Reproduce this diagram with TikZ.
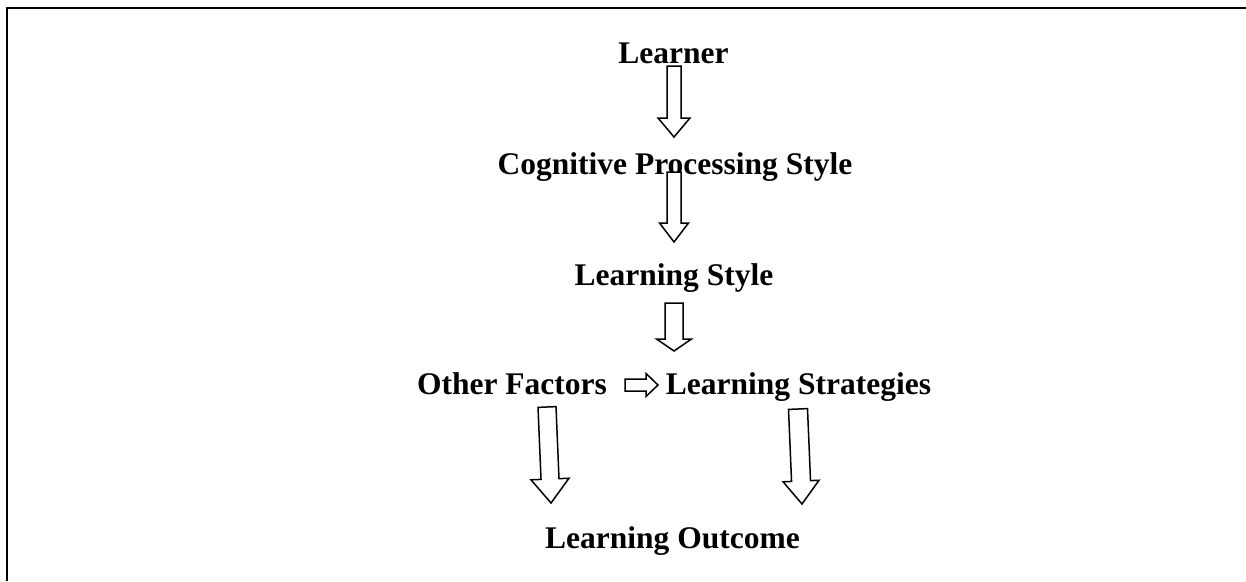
\documentclass[tikz,border=0pt]{standalone}
\usepackage{fontspec}
\setmainfont{Liberation Serif}
\usetikzlibrary{positioning,calc}

% hollow block arrow: tail, tip, half shaft, half head, head length
\newcommand{\hollowarrow}[5]{%
    \coordinate (hb) at ($(#2)!#5!(#1)$);
    \draw[blockline] ($(#1)!#3!90:(#2)$) -- ($(hb)!#3!90:(#2)$) -- ($(hb)!#4!90:(#2)$)
        -- (#2) -- ($(hb)!#4!-90:(#2)$) -- ($(hb)!#3!-90:(#2)$) -- ($(#1)!#3!-90:(#2)$) -- cycle;
}

\begin{document}
\begin{tikzpicture}[x=1pt,y=-1pt,
    stage/.style={font=\fontsize{31.5}{36}\selectfont\bfseries, inner sep=0pt, anchor=base},
    blockline/.style={draw=black, fill=white, line width=1.5pt, line join=miter}]
    \useasboundingbox (0,0) rectangle (1246,581);
    % Frame
    \draw[line width=2pt] (7,581) -- (7,8) -- (1246,8);

    % Stages
    \node[stage] (learner) at (673.5,63) {Learner};
    \node[stage] (cps) at (675,174) {Cognitive Processing Style};
    \node[stage] (lstyle) at (674,285) {Learning Style};
    \node[stage] (other) at (512,394) {Other Factors};
    \node[stage] (lstrat) at (798.5,394) {Learning Strategies};
    \node[stage] (outcome) at (672.5,548) {Learning Outcome};

    % Arrow ends
    \coordinate (a1s) at (674,66);  \coordinate (a1e) at (674,137);
    \coordinate (a2s) at (674,172); \coordinate (a2e) at (674,242);
    \coordinate (a3s) at (674,303); \coordinate (a3e) at (674,351);
    \coordinate (a4s) at (625,385); \coordinate (a4e) at (658,385);
    \coordinate (a5s) at (547,407); \coordinate (a5e) at (551,503);
    \coordinate (a6s) at (798,409); \coordinate (a6e) at (802,504);

    % Arrows
    \hollowarrow{a1s}{a1e}{7pt}{16pt}{19pt}
    \hollowarrow{a2s}{a2e}{7pt}{14.5pt}{19pt}
    \hollowarrow{a3s}{a3e}{9pt}{17.5pt}{12pt}
    \hollowarrow{a4s}{a4e}{6pt}{11.5pt}{12pt}
    \hollowarrow{a5s}{a5e}{9pt}{19pt}{24pt}
    \hollowarrow{a6s}{a6e}{9.5pt}{18pt}{23pt}
\end{tikzpicture}
\end{document}
